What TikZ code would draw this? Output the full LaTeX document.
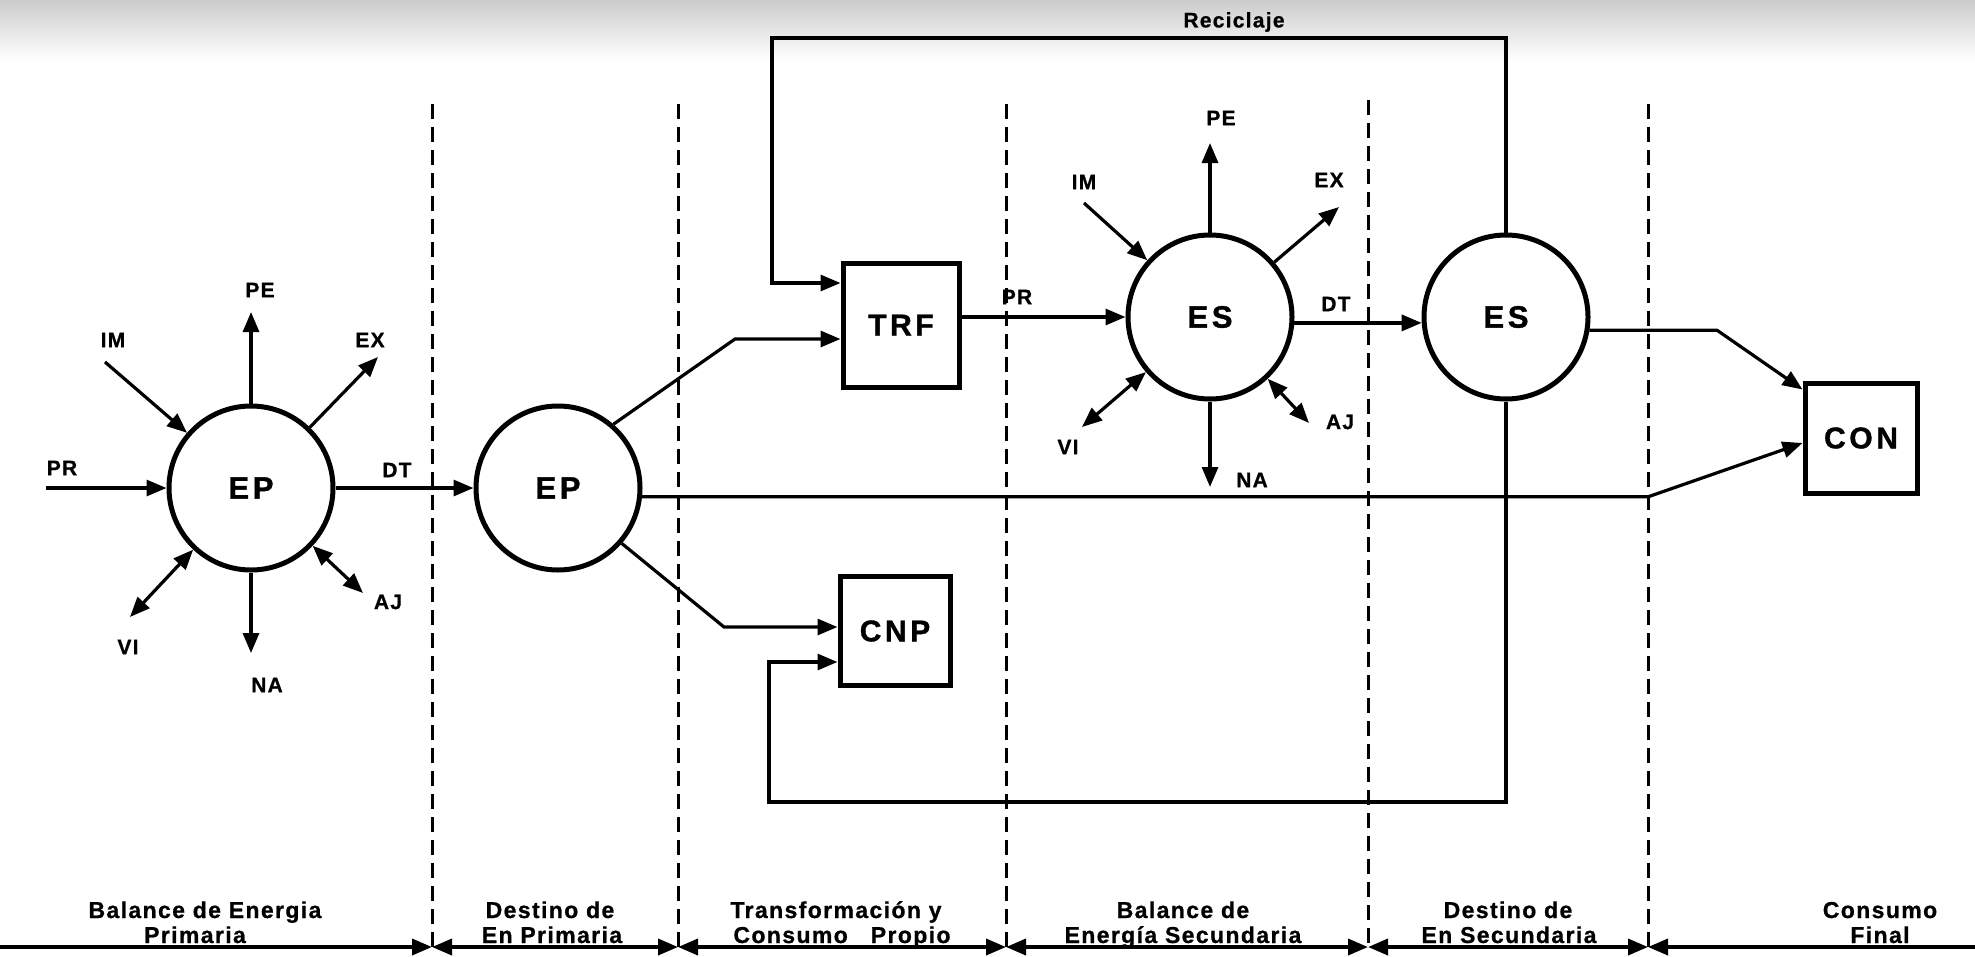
\documentclass[tikz,border=0pt]{standalone}
\usepackage{fontspec}
\setmainfont{Liberation Sans}
\newfontfamily\spacedfont[LetterSpace=12,FakeBold=1.2]{Liberation Sans Bold}
\newfontfamily\midfont[LetterSpace=6,FakeBold=0.8]{Liberation Sans Bold}
\usetikzlibrary{arrows.meta,calc}
\begin{document}
\begin{tikzpicture}[x=1pt,y=-1pt,
  conn/.style={line width=3.2pt},
  tipA/.tip={Triangle[length=20pt,width=16pt]},
  arr/.style={conn,-tipA},
  darr/.style={conn,tipA-tipA},
  circ/.style={circle,draw,line width=5pt,minimum size=164pt,inner sep=0pt,
    font=\spacedfont\fontsize{31pt}{33pt}\selectfont},
  blk/.style={rectangle,draw,line width=5pt,inner sep=0pt,
    font=\spacedfont\fontsize{30pt}{32pt}\selectfont},
  lab/.style={inner sep=0pt,font=\midfont\fontsize{21pt}{23pt}\selectfont},
  botlab/.style={inner sep=0pt,anchor=base,font=\midfont\fontsize{23pt}{25pt}\selectfont},
  sepline/.style={line width=3pt,dash pattern=on 15pt off 8pt},
  axisline/.style={line width=3.6pt}
]
\useasboundingbox (0,0) rectangle (1975,956);
\fill[white] (0,0) rectangle (1975,956);
\shade[top color=gray!40,bottom color=white] (0,0) rectangle (1975,60);

% main nodes
\node[circ] (EP1) at (251,488) {EP};
\node[circ] (EP2) at (558,488) {EP};
\node[circ] (ES1) at (1210,317) {ES};
\node[circ] (ES2) at (1506,317) {ES};
\node[blk,minimum width=116pt,minimum height=124pt] (TRF) at (901,325) {TRF};
\node[blk,minimum width=110pt,minimum height=109pt] (CNP) at (895,631) {CNP};
\node[blk,minimum width=112pt,minimum height=110pt] (CON) at (1861,438) {CON};

% dashed separators
\coordinate (d1) at (432,104);
\coordinate (d2) at (678,104);
\coordinate (d3) at (1006,104);
\coordinate (d4) at (1368,100);
\coordinate (d5) at (1648,104);
\coordinate (b0) at (0,947);
\coordinate (b6) at (1975,947);
\foreach \d in {d1,d2,d3,d4,d5} \draw[sepline] (\d) -- (\d |- b0);

% bottom axis
\draw[axisline,-tipA] (b0) -- (d1 |- b0);
\draw[axisline,tipA-tipA] (d1 |- b0) -- (d2 |- b0);
\draw[axisline,tipA-tipA] (d2 |- b0) -- (d3 |- b0);
\draw[axisline,tipA-tipA] (d3 |- b0) -- (d4 |- b0);
\draw[axisline,tipA-tipA] (d4 |- b0) -- (d5 |- b0);
\draw[axisline,tipA-] (d5 |- b0) -- (b6);

% EP1 spokes
\coordinate (PR1) at (46,488);
\coordinate (IM1) at (105,362);
\coordinate (PE1) at (251,312);
\coordinate (EX1) at (378,357);
\coordinate (VI1) at (130,617);
\coordinate (NA1) at (251,653);
\coordinate (AJ1) at (363,593);
\draw[arr] (PR1) -- (EP1);
\draw[arr] (IM1) -- (EP1);
\draw[arr] (EP1) -- (PE1);
\draw[arr] (EP1) -- (EX1);
\draw[darr] (VI1) -- (EP1);
\draw[arr] (EP1) -- (NA1);
\draw[darr] (AJ1) -- (EP1);
\draw[arr] (EP1) -- (EP2);

\node[lab] (tPR1) at (62,468) {PR};
\node[lab] (tIM1) at (113,340) {IM};
\node[lab] (tPE1) at (260,290) {PE};
\node[lab] (tEX1) at (370,340) {EX};
\node[lab] (tDT1) at (397,470) {DT};
\node[lab] (tVI1) at (128,647) {VI};
\node[lab] (tNA1) at (267,685) {NA};
\node[lab] (tAJ1) at (388,602) {AJ};

% EP2 outputs
\coordinate (kTRF) at (735,339);
\coordinate (kCNP) at (724,627);
\draw[arr] (EP2.49) -- (kTRF) -- (kTRF -| TRF.west);
\draw[arr] (EP2.-41) -- (kCNP) -- (kCNP -| CNP.west);
\draw[arr] (EP2.-6) -- (EP2.-6 -| d5) -- ($(CON.west)+(0,5)$);

% TRF to ES1
\draw[arr] (TRF.east |- ES1) -- (ES1);
\node[lab] (tPR2) at (1017,297) {PR};

% ES1 spokes
\coordinate (IM2) at (1084,203);
\coordinate (PE2) at (1210,143);
\coordinate (EX2) at (1339,207);
\coordinate (VI2) at (1082,427);
\coordinate (NA2) at (1210,487);
\coordinate (AJ2) at (1309,423);
\draw[arr] (IM2) -- (ES1);
\draw[arr] (ES1) -- (PE2);
\draw[arr] (ES1) -- (EX2);
\draw[darr] (VI2) -- (ES1);
\draw[arr] (ES1) -- (NA2);
\draw[darr] (AJ2) -- (ES1);
\draw[arr] (ES1.-4) -- (ES2.184);

\node[lab] (tIM2) at (1084,182) {IM};
\node[lab] (tPE2) at (1221,118) {PE};
\node[lab] (tEX2) at (1329,180) {EX};
\node[lab] (tVI2) at (1068,447) {VI};
\node[lab] (tNA2) at (1252,480) {NA};
\node[lab] (tAJ2) at (1340,422) {AJ};
\node[lab] (tDT2) at (1336,304) {DT};

% ES2 outputs
\coordinate (kCON) at (1717,330);
\draw[arr] (ES2.-9) -- (ES2.-9 -| kCON) -- ($(CON.north west)+(0,9)$);

% recycle loop
\coordinate (rc) at (772,38);
\coordinate (rin) at (772,283);
\draw[arr] (ES2.north) |- (rc) -- (rin) -- (rin -| TRF.west);
\node[lab] (tRec) at (1234,22) {Reciclaje};

% feedback to CNP
\coordinate (fb) at (769,802);
\coordinate (fbin) at (769,662);
\draw[arr] (ES2.south) |- (fb) -- (fbin) -- (fbin -| CNP.west);

% bottom labels
\node[botlab] (l1a) at (205,918) {Balance de Energia};
\node[botlab] (l1b) at (195,943) {Primaria};
\node[botlab] (l2a) at (550,918) {Destino de};
\node[botlab] (l2b) at (552,943) {En Primaria};
\node[botlab] (l3a) at (836,918) {Transformación y};
\node[botlab] (l3b) at (842,943) {Consumo\quad Propio};
\node[botlab] (l4a) at (1183,918) {Balance de};
\node[botlab] (l4b) at (1183,943) {Energía Secundaria};
\node[botlab] (l5a) at (1508,918) {Destino de};
\node[botlab] (l5b) at (1509,943) {En Secundaria};
\node[botlab] (l6a) at (1880,918) {Consumo};
\node[botlab] (l6b) at (1880,943) {Final};
\end{tikzpicture}
\end{document}
